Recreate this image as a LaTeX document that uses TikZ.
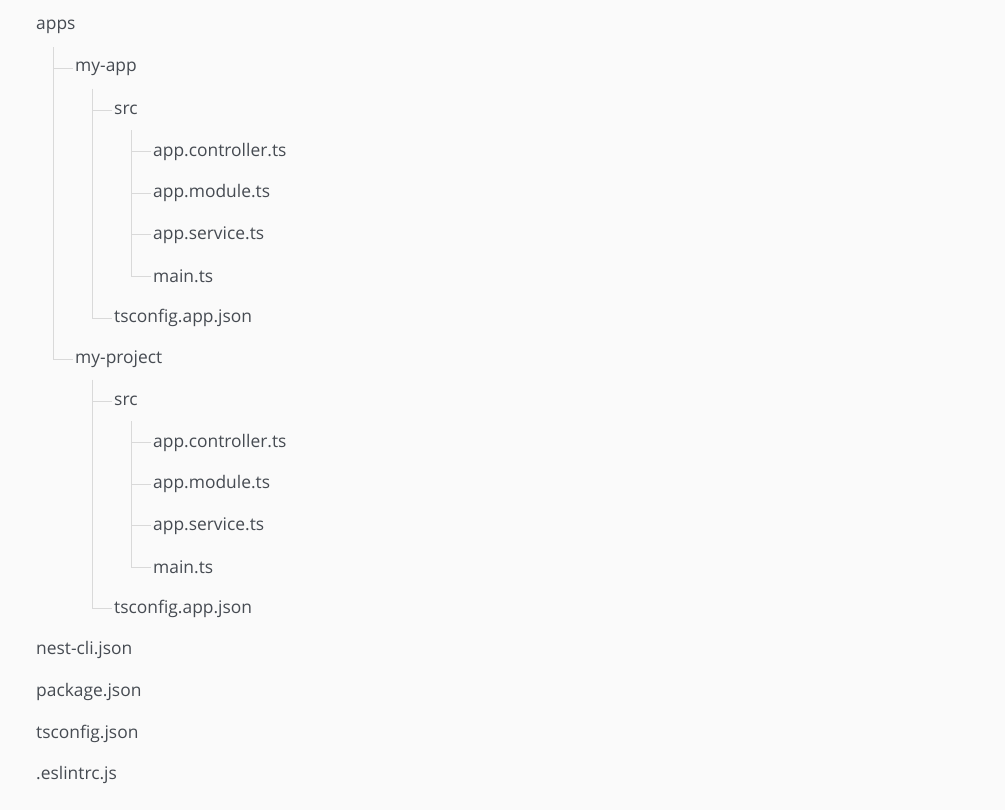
\documentclass[tikz,border=0pt]{standalone}
\usepackage{fontspec}
\setmainfont{Open Sans}
\definecolor{bg}{HTML}{FAFAFA}
\definecolor{txt}{HTML}{464B52}
\definecolor{ln}{HTML}{D9D9D9}
\begin{document}
\begin{tikzpicture}[x=1pt,y=-1pt,
  item/.style={anchor=west,inner xsep=2pt,inner ysep=0pt,minimum height=40pt,text=txt,font=\fontsize{17.4}{19}\selectfont},
  tree/.style={draw=ln,line width=1pt}]
\fill[bg] (0,0) rectangle (1005,810);
\useasboundingbox (0,0) rectangle (1005,810);
\def\s{41.55}
\def\t{27.2}
\node[item] (apps)  at (34,\t) {apps};
\node[item] (myapp) at (73,{\t+1*\s}) {my-app};
\node[item] (src1)  at (112,{\t+2*\s}) {src};
\node[item] (c1)    at (151,{\t+3*\s}) {app.controller.ts};
\node[item] (m1)    at (151,{\t+4*\s}) {app.module.ts};
\node[item] (s1)    at (151,{\t+5*\s}) {app.service.ts};
\node[item] (mn1)   at (151,{\t+6*\s}) {main.ts};
\node[item] (ts1)   at (112,{\t+7*\s}) {tsconfig.app.json};
\node[item] (myproj) at (73,{\t+8*\s}) {my-project};
\node[item] (src2)  at (112,{\t+9*\s}) {src};
\node[item] (c2)    at (151,{\t+10*\s}) {app.controller.ts};
\node[item] (m2)    at (151,{\t+11*\s}) {app.module.ts};
\node[item] (s2)    at (151,{\t+12*\s}) {app.service.ts};
\node[item] (mn2)   at (151,{\t+13*\s}) {main.ts};
\node[item] (ts2)   at (112,{\t+14*\s}) {tsconfig.app.json};
\node[item] (nest)  at (34,{\t+15*\s}) {nest-cli.json};
\node[item] (pkg)   at (34,{\t+16*\s}) {package.json};
\node[item] (tsc)   at (34,{\t+17*\s}) {tsconfig.json};
\node[item] (esl)   at (34,{\t+18*\s}) {.eslintrc.js};
\foreach \p/\c in {apps/myapp,apps/myproj,myapp/src1,myapp/ts1,src1/c1,src1/m1,src1/s1,src1/mn1,myproj/src2,myproj/ts2,src2/c2,src2/m2,src2/s2,src2/mn2}
  \draw[tree] ([xshift=19pt]\p.south west) |- (\c.west);
\end{tikzpicture}
\end{document}
